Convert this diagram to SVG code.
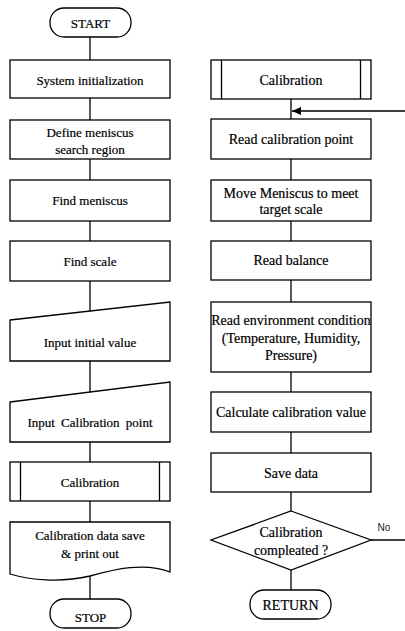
<svg xmlns="http://www.w3.org/2000/svg" width="405" height="631" viewBox="0 0 405 631">
<defs>
<style>
.s{fill:#fff;stroke:#000;stroke-width:1.3}
.c{fill:none;stroke:#000;stroke-width:1.3}
.t text{font-size:13px;fill:#000;stroke:#000;stroke-width:0.2;text-anchor:middle;dominant-baseline:central}
.r text{font-size:14px}
.lab{font-size:10px;fill:#222;text-anchor:middle;dominant-baseline:central}
</style>
<marker id="ah" markerWidth="10" markerHeight="8" refX="9" refY="4" orient="auto" markerUnits="userSpaceOnUse">
<path d="M0,0 L9,4 L0,8 Z" fill="#000"/>
</marker>
</defs>
<rect width="405" height="631" fill="#fff"/>
<g id="connectors">
<line class="c" x1="90" y1="37" x2="90" y2="60"/>
<line class="c" x1="90" y1="98" x2="90" y2="120"/>
<line class="c" x1="90" y1="159" x2="90" y2="180"/>
<line class="c" x1="90" y1="221" x2="90" y2="241"/>
<line class="c" x1="90" y1="281" x2="90" y2="311"/>
<line class="c" x1="90" y1="361" x2="90" y2="392"/>
<line class="c" x1="90" y1="442" x2="90" y2="462"/>
<line class="c" x1="90" y1="501" x2="90" y2="522"/>
<line class="c" x1="90" y1="576" x2="90" y2="599"/>
<line class="c" x1="291" y1="99" x2="291" y2="119"/>
<line class="c" x1="405" y1="111" x2="292" y2="111" marker-end="url(#ah)"/>
<line class="c" x1="291" y1="159" x2="291" y2="180"/>
<line class="c" x1="291" y1="221" x2="291" y2="241"/>
<line class="c" x1="291" y1="280" x2="291" y2="302"/>
<line class="c" x1="291" y1="372" x2="291" y2="392"/>
<line class="c" x1="291" y1="432" x2="291" y2="453"/>
<line class="c" x1="291" y1="492" x2="291" y2="511"/>
<line class="c" x1="291" y1="570" x2="291" y2="590"/>
<line class="c" x1="371" y1="540" x2="405" y2="540" stroke-width="1"/>
<text class="lab" x="384" y="527" font-family="'Liberation Sans', Arial, sans-serif">No</text>
</g>
<g class="t" font-family="'Liberation Serif', 'Times New Roman', 'DejaVu Serif', serif">
<g id="start">
<rect class="s" x="50" y="8" width="81" height="29" rx="14"/>
<text x="90.5" y="23">START</text>
</g>
<g id="sysinit">
<rect class="s" x="10" y="60" width="160" height="38"/>
<text x="90" y="80">System initialization</text>
</g>
<g id="define">
<rect class="s" x="10" y="120" width="160" height="39"/>
<text x="90" y="132">Define meniscus</text>
<text x="90" y="149">search region</text>
</g>
<g id="findmen">
<rect class="s" x="10" y="180" width="160" height="41"/>
<text x="90" y="200">Find meniscus</text>
</g>
<g id="findscale">
<rect class="s" x="10" y="241" width="160" height="40"/>
<text x="90" y="261">Find scale</text>
</g>
<g id="inputinit">
<path class="s" d="M10,320 L170,302 L170,361 L10,361 Z"/>
<text x="90" y="342">Input initial value</text>
</g>
<g id="inputcal">
<path class="s" d="M10,402 L170,382 L170,442 L10,442 Z"/>
<text x="90" y="422" word-spacing="3">Input Calibration point</text>
</g>
<g id="calib1">
<rect class="s" x="10" y="462" width="160" height="39"/>
<line class="c" x1="20.5" y1="462" x2="20.5" y2="501"/>
<line class="c" x1="159.5" y1="462" x2="159.5" y2="501"/>
<text x="90" y="482">Calibration</text>
</g>
<g id="savepr">
<path class="s" d="M10,522 L170,522 L170,572 C145,562 115,569 90,576 C60,583 30,580 10,574 Z"/>
<text x="90" y="535">Calibration data save</text>
<text x="90" y="553">&amp; print out</text>
</g>
<g id="stop">
<rect class="s" x="50" y="599" width="81" height="29" rx="14"/>
<text x="90.5" y="617">STOP</text>
</g>
</g>
<g class="t r" font-family="'Liberation Serif', 'Times New Roman', 'DejaVu Serif', serif">
<g id="calib2">
<rect class="s" x="211" y="60" width="160" height="39"/>
<line class="c" x1="221.5" y1="60" x2="221.5" y2="99"/>
<line class="c" x1="360.5" y1="60" x2="360.5" y2="99"/>
<text x="291" y="80">Calibration</text>
</g>
<g id="readcal">
<rect class="s" x="211" y="119" width="160" height="40"/>
<text x="291" y="139">Read calibration point</text>
</g>
<g id="move">
<rect class="s" x="211" y="180" width="160" height="41"/>
<text x="291" y="193">Move Meniscus to meet</text>
<text x="291" y="209">target scale</text>
</g>
<g id="readbal">
<rect class="s" x="211" y="241" width="160" height="39"/>
<text x="291" y="260">Read balance</text>
</g>
<g id="readenv">
<rect class="s" x="211" y="302" width="160" height="70"/>
<text x="291" y="320">Read environment condition</text>
<text x="291" y="338">(Temperature, Humidity,</text>
<text x="291" y="355">Pressure)</text>
</g>
<g id="calc">
<rect class="s" x="211" y="392" width="160" height="40"/>
<text x="291" y="412">Calculate calibration value</text>
</g>
<g id="savedata">
<rect class="s" x="211" y="453" width="160" height="39"/>
<text x="291" y="473">Save data</text>
</g>
<g id="decision">
<path class="s" d="M291,511 L371,540 L291,570 L211,540 Z"/>
<text x="291" y="532">Calibration</text>
<text x="291" y="550">compleated ?</text>
</g>
<g id="return">
<rect class="s" x="250" y="590" width="81" height="29" rx="14"/>
<text x="290.5" y="605">RETURN</text>
</g>
</g>
</svg>
